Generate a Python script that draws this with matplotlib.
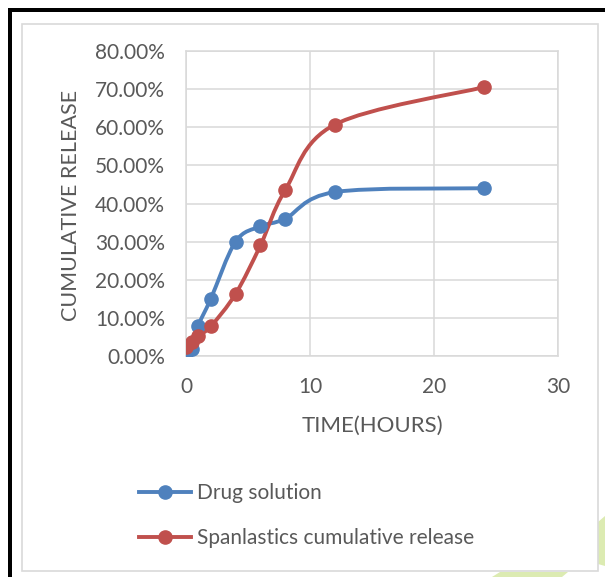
import matplotlib
matplotlib.use("Agg")
import matplotlib.pyplot as plt
from matplotlib.path import Path
from matplotlib.patches import PathPatch, Rectangle, Polygon
from matplotlib.lines import Line2D
from matplotlib.ticker import FuncFormatter, MultipleLocator

plt.rcParams['font.family'] = ['Lato', 'DejaVu Sans']

# release data (percent) at each sampling time
time_h = [0, 0.5, 1, 2, 4, 6, 8, 12, 24]
drug_solution = [0.8, 1.8, 8.0, 15.0, 30.0, 34.0, 36.0, 43.0, 44.0]
spanlastics = [2.4, 3.8, 5.3, 7.8, 16.3, 29.0, 43.5, 60.7, 70.5]

series_names = ['Drug solution', 'Spanlastics cumulative release']
series_colors = ['#4F81BD', '#C0504D']
text_color = '#595959'
grid_color = '#D9D9D9'

W, H = 605, 577


def px(x, y):
    # pixel position (from top left) -> figure fraction
    return x / W, 1 - y / H


def smooth_path(xs, ys):
    # Excel style smoothed line: cubic bezier through every point
    pts = list(zip(xs, ys))
    n = len(pts)
    verts = [pts[0]]
    codes = [Path.MOVETO]
    for i in range(n - 1):
        p0 = pts[i - 1] if i > 0 else pts[i]
        p1 = pts[i]
        p2 = pts[i + 1]
        p3 = pts[i + 2] if i + 2 < n else pts[i + 1]
        c1 = (p1[0] + (p2[0] - p0[0]) / 6, p1[1] + (p2[1] - p0[1]) / 6)
        c2 = (p2[0] - (p3[0] - p1[0]) / 6, p2[1] - (p3[1] - p1[1]) / 6)
        verts += [c1, c2, p2]
        codes += [Path.CURVE4] * 3
    return Path(verts, codes)


fig = plt.figure(figsize=(W / 100, H / 100), dpi=100)

# leafy background bits, outer frame and chart box
leaf = '#DCEBB2'
fig.add_artist(Polygon([px(598, 522), px(605, 516), px(605, 566), px(598, 564)],
                       closed=True, transform=fig.transFigure, facecolor=leaf,
                       edgecolor='none', zorder=-3))
fig.add_artist(Polygon([px(492, 577), px(500, 572), px(568, 572), px(562, 577)],
                       closed=True, transform=fig.transFigure, facecolor=leaf,
                       edgecolor='none', zorder=-3))
x0, y0 = px(22, 571)
x1, y1 = px(598, 24)
fig.add_artist(Rectangle((x0, y0), x1 - x0, y1 - y0, transform=fig.transFigure,
                         facecolor='white', edgecolor=grid_color, lw=1.2, zorder=-2))
bx, by = px(8, 577)
fig.add_artist(Rectangle((bx, by), 4 / W, 1 - 8 / H - by, transform=fig.transFigure,
                         facecolor='black', edgecolor='none', zorder=5))
tx, ty = px(8, 12)
fig.add_artist(Rectangle((tx, ty), 1 - tx, 4 / H, transform=fig.transFigure,
                         facecolor='black', edgecolor='none', zorder=5))

l, b = px(186, 356)
r, t = px(558, 51)
ax = fig.add_axes([l, b, r - l, t - b])
ax.patch.set_alpha(0)

for ys, color in zip([drug_solution, spanlastics], series_colors):
    ax.add_patch(PathPatch(smooth_path(time_h, ys), facecolor='none', edgecolor=color,
                           lw=2.8, capstyle='round', joinstyle='round', zorder=3))
    ax.plot(time_h, ys, linestyle='none', marker='o', markersize=9.5,
            color=color, zorder=4)

ax.set_xlim(0, 30)
ax.set_ylim(0, 80)
ax.xaxis.set_major_locator(MultipleLocator(10))
ax.yaxis.set_major_locator(MultipleLocator(10))
ax.yaxis.set_major_formatter(FuncFormatter(lambda v, p: f'{v:.2f}%'))
ax.grid(True, color=grid_color, lw=1.1)
ax.set_axisbelow(True)
for s in ax.spines.values():
    s.set_color(grid_color)
    s.set_linewidth(1.1)
ax.tick_params(axis='both', length=0, labelsize=15, labelcolor=text_color)
ax.tick_params(axis='y', pad=15)
ax.tick_params(axis='x', pad=15)

fig.text(*px(71, 205), 'CUMULATIVE RELEASE', rotation=90, ha='center', va='center',
         fontsize=15.5, color=text_color)
fig.text(*px(372, 426), 'TIME(HOURS)', ha='center', va='center',
         fontsize=16, color=text_color)

handles = [Line2D([], [], color=c, lw=2.8, marker='o', markersize=9.5)
           for c in series_colors]
fig.legend(handles, series_names, loc='upper left', bbox_to_anchor=px(139, 483),
           frameon=False, fontsize=15, handlelength=2.5, handletextpad=0.3,
           labelspacing=1.2, borderpad=0, borderaxespad=0, labelcolor=text_color)

fig.savefig('out.png', dpi=100)
